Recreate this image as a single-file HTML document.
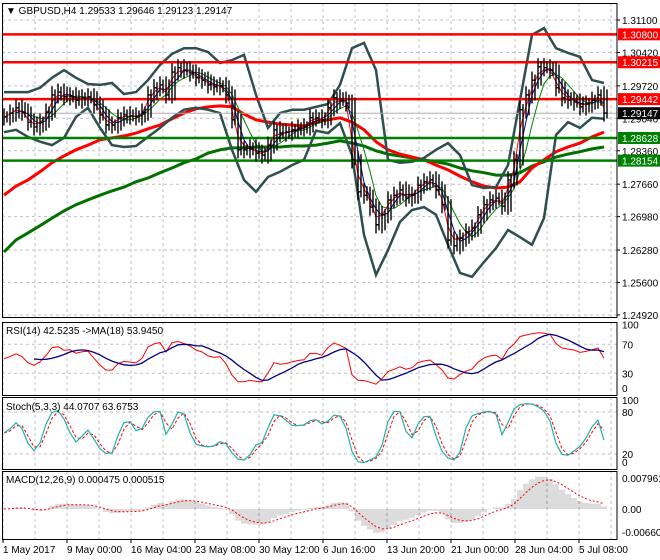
<!DOCTYPE html>
<html><head><meta charset="utf-8"><style>
html,body{margin:0;padding:0;background:#fff;}
svg{display:block;font-family:"Liberation Sans",sans-serif;}
text{font-size:10px;fill:#000;}
</style></head><body>
<svg id="c" width="660" height="560" viewBox="0 0 660 560" xmlns="http://www.w3.org/2000/svg">
<defs>
<clipPath id="cm"><rect x="2" y="3" width="615" height="314"/></clipPath>
<clipPath id="cr"><rect x="2" y="322" width="615" height="73"/></clipPath>
<clipPath id="cs"><rect x="2" y="397" width="615" height="72"/></clipPath>
<clipPath id="cd"><rect x="2" y="471" width="615" height="68"/></clipPath>
</defs>
<g id="grid"></g>
<g id="main" clip-path="url(#cm)"></g>
<g id="rsi" clip-path="url(#cr)"></g>
<g id="sto" clip-path="url(#cs)"></g>
<g id="macd" clip-path="url(#cd)"></g>
<g id="axes"></g>
<text x="6" y="14">▼ GBPUSD,H4  1.29533 1.29646 1.29123 1.29147</text>
<text x="6" y="334">RSI(14) 42.5235  -&gt;MA(18) 53.9450</text>
<text x="6" y="410">Stoch(5,3,3) 44.0707 63.6753</text>
<text x="6" y="483">MACD(12,26,9) 0.000475 0.000515</text>
</svg>
<script>
const closes=[1.2907,1.2915,1.2926,1.2917,1.2896,1.2886,1.2896,1.2917,1.2953,1.2959,
1.2949,1.2951,1.2942,1.2947,1.2949,1.2932,1.2911,1.2890,1.2890,1.2905,
1.2911,1.2909,1.2907,1.2917,1.2953,1.2968,1.2974,1.2953,1.3001,1.3010,
1.3005,1.2999,1.2989,1.2984,1.2974,1.2970,1.2972,1.2953,1.2901,1.2838,
1.2838,1.2842,1.2831,1.2827,1.2848,1.2880,1.2873,1.2875,1.2880,1.2884,
1.2886,1.2905,1.2905,1.2901,1.2926,1.2947,1.2942,1.2936,1.2817,1.2750,
1.2743,1.2718,1.2681,1.2702,1.2733,1.2743,1.2754,1.2737,1.2743,1.2764,
1.2771,1.2775,1.2754,1.2723,1.2649,1.2637,1.2653,1.2666,1.2674,1.2702,
1.2723,1.2733,1.2737,1.2720,1.2775,1.2817,1.2922,1.2953,1.2984,1.3012,
1.3010,1.3005,1.2968,1.2947,1.2942,1.2938,1.2928,1.2934,1.2942,1.2953,1.2915];
const bbUpper=[1.2959,1.2959,1.2959,1.2968,1.2989,1.3005,1.2989,1.2976,1.2974,1.2978,
1.2955,1.2959,1.2984,1.3016,1.3039,1.3051,1.3051,1.3043,1.3020,1.3026,
1.3037,1.2953,1.2884,1.2915,1.2922,1.2922,1.2928,1.2934,1.2974,1.3051,
1.3062,1.3005,1.2817,1.2811,1.2813,1.2821,1.2838,1.2852,1.2827,1.2764,
1.2758,1.2760,1.2806,1.2942,1.3079,1.3093,1.3051,1.3041,1.3033,1.2984,1.2978];
const bbLower=[1.2875,1.2880,1.2865,1.2855,1.2848,1.2863,1.2907,1.2926,1.2884,1.2848,
1.2844,1.2846,1.2865,1.2884,1.2905,1.2922,1.2926,1.2922,1.2915,1.2838,
1.2775,1.2750,1.2781,1.2792,1.2806,1.2817,1.2878,1.2873,1.2894,1.2827,
1.2660,1.2576,1.2628,1.2687,1.2712,1.2718,1.2702,1.2639,1.2580,1.2572,
1.2603,1.2632,1.2670,1.2655,1.2639,1.2695,1.2869,1.2896,1.2884,1.2905,1.2903];
const maSlow=[1.2743,1.2762,1.2775,1.2792,1.2811,1.2825,1.2838,1.2848,1.2859,1.2863,
1.2867,1.2873,1.2882,1.2890,1.2903,1.2915,1.2924,1.2928,1.2930,1.2928,
1.2913,1.2901,1.2896,1.2892,1.2890,1.2888,1.2896,1.2901,1.2905,1.2896,
1.2880,1.2855,1.2838,1.2829,1.2823,1.2817,1.2806,1.2796,1.2783,1.2771,
1.2762,1.2758,1.2760,1.2771,1.2800,1.2817,1.2834,1.2844,1.2852,1.2865,1.2875];
const maLong=[1.2624,1.2649,1.2664,1.2679,1.2695,1.2710,1.2723,1.2733,1.2743,1.2752,
1.2760,1.2771,1.2779,1.2790,1.2800,1.2811,1.2819,1.2831,1.2838,1.2842,
1.2842,1.2844,1.2844,1.2844,1.2846,1.2846,1.2848,1.2852,1.2857,1.2852,
1.2846,1.2836,1.2829,1.2825,1.2821,1.2817,1.2813,1.2808,1.2800,1.2794,
1.2790,1.2785,1.2785,1.2790,1.2804,1.2813,1.2823,1.2829,1.2834,1.2840,1.2844];
const levelPrices=[1.30800,1.30215,1.29442,1.28628,1.28154];
const levelKinds=["r","r","r","g","g"];
const lastPrice=1.29147;
const priceTicks=[1.31100,1.30420,1.29720,1.29040,1.28360,1.27660,1.26980,1.26280,1.25600,1.24920];
const timeLabels=["1 May 2017","9 May 00:00","16 May 04:00","23 May 08:00","30 May 12:00","6 Jun 16:00","13 Jun 20:00","21 Jun 00:00","28 Jun 04:00","5 Jul 08:00"];

const NS="http://www.w3.org/2000/svg";
function mk(tag,attrs,parent){const e=document.createElementNS(NS,tag);for(const k in attrs)e.setAttribute(k,attrs[k]);parent.appendChild(e);return e;}
const xOf=i=>4+6*i;
const xSm=k=>4+12*k;
const yMain=p=>20+(1.311-p)*4773;
const yRsi=v=>395-0.725*v;
const ySto=v=>468-0.7*v;
const yMacd=v=>509-v*3768;
const G=id=>document.getElementById(id);
const grid=G('grid'),main=G('main'),rsiG=G('rsi'),stoG=G('sto'),macdG=G('macd'),axes=G('axes');

for(let k=0;k<20;k++){const x=3+32*k;if(x>616)break;
 for(const [a,b] of [[3,317],[322,395],[397,469],[471,539]]){
  const l=mk('line',{x1:x,x2:x,y1:a,y2:b,stroke:'#c0c0c0','stroke-dasharray':'3,3'},grid);
  
  }}
priceTicks.forEach(p=>{const y=yMain(p);
 const l=mk('line',{x1:2,x2:617,y1:y,y2:y,stroke:'#c0c0c0','stroke-dasharray':'3,3'},grid);
 
 
 const t=mk('text',{x:622,y:y+4},axes);t.textContent=p.toFixed(5);
 
 
 const tk=mk('line',{x1:617,x2:620,y1:y,y2:y,stroke:'#000'},axes);
 
 });
[[70,yRsi],[30,yRsi],[80,ySto],[20,ySto]].forEach(([v,f])=>{const y=f(v);
 const l=mk('line',{x1:2,x2:617,y1:y,y2:y,stroke:'#c0c0c0','stroke-dasharray':'3,3'},grid);
 
 });
function path(arr,xf,yf,attrs,parent,name){let d='';arr.forEach((v,i)=>{if(v==null)return;d+=(d?'L':'M')+xf(i).toFixed(1)+','+yf(v).toFixed(1);});
 const p=mk('path',Object.assign({d:d,fill:'none'},attrs),parent);
 
 return p;}

path(maLong,xSm,yMain,{stroke:'#007000','stroke-width':3},main,'ma-long-line');
path(maSlow,xSm,yMain,{stroke:'#ff0000','stroke-width':3},main,'ma-slow-line');
path(bbUpper,xSm,yMain,{stroke:'#2f4f4f','stroke-width':2.5},main,'bollinger-upper');
path(bbLower,xSm,yMain,{stroke:'#2f4f4f','stroke-width':2.5},main,'bollinger-lower');
levelPrices.forEach((p,i)=>{const y=yMain(p);const col=levelKinds[i]=='r'?'#ff0000':'#008000';
 const l=mk('line',{x1:2,x2:617,y1:y,y2:y,stroke:col,'stroke-width':2.5},main);
 
 });
const cl=mk('line',{x1:2,x2:617,y1:yMain(lastPrice),y2:yMain(lastPrice),stroke:'#b0b0b0'},main);


function sma(a,n){return a.map((v,i)=>{if(i<n-1)return null;let s=0;for(let j=i-n+1;j<=i;j++)s+=a[j];return s/n;});}
function ema(a,n){const k=2/(n+1);let e=a[0];return a.map((v,i)=>{e=i?v*k+e*(1-k):v;return e;});}
path(sma(closes,5),xOf,yMain,{stroke:'#008000','stroke-width':1},main,'ma-fast-green');
path(sma(closes,3),xOf,yMain,{stroke:'#00008b','stroke-width':1},main,'ma-fast-blue');
path(ema(closes,2),xOf,yMain,{stroke:'#ff0000','stroke-width':1},main,'ma-fast-red');
const highs=[],lows=[];
closes.forEach((c,i)=>{const o=i?closes[i-1]:c;const h=Math.max(o,c)+0.0018,l=Math.min(o,c)-0.0018;highs.push(h);lows.push(l);
 const x=xOf(i);
 const b=mk('path',{d:`M${x},${yMain(h)}V${yMain(l)}M${x+3},${yMain(h)+3}V${yMain(l)-3}M${x},${yMain(c)}h3`,stroke:'#000','stroke-width':1.4,fill:'none'},main);
 
 });

const P=9;const rsiV=[];let ag=0.0008,al=0.0008;
closes.forEach((c,i)=>{if(!i){rsiV.push(50);return;}const d=c-closes[i-1];const g=Math.max(d,0),l=Math.max(-d,0);
 ag=(ag*(P-1)+g)/P;al=(al*(P-1)+l)/P;rsiV.push(al==0?100:100-100/(1+ag/al));});
const rsiMa=sma(rsiV,6);
path(rsiV,xOf,yRsi,{stroke:'#ff0000','stroke-width':1},rsiG,'rsi-line');
path(rsiMa,xOf,yRsi,{stroke:'#000080','stroke-width':1.3},rsiG,'rsi-ma-line');
const kRaw=closes.map((c,i)=>{const s=Math.max(0,i-2);const hh=Math.max(...highs.slice(s,i+1)),ll=Math.min(...lows.slice(s,i+1));return 100*(c-ll)/(hh-ll);});
const kS=kRaw.map((v,i)=>i?(2*v+kRaw[i-1])/3:v);
const dS=kS.map((v,i)=>i?(v+kS[i-1])/2:v);
path(dS,xOf,ySto,{stroke:'#ff0000','stroke-width':1,'stroke-dasharray':'3,2'},stoG,'stoch-signal-line');
path(kS,xOf,ySto,{stroke:'#20b2aa','stroke-width':1.2},stoG,'stoch-main-line');
const e1=ema(closes,5),e2=ema(closes,12);const macdV=e1.map((v,i)=>v-e2[i]);const sig=ema(macdV,4);
macdV.forEach((v,i)=>{for(let s=0;s<3;s++){const x=xOf(i)+s*2-2;
 const h=mk('line',{x1:x,x2:x,y1:yMacd(0),y2:yMacd(v),stroke:'#b8b8b8'},macdG);
 
 }});
path(sig,xOf,yMacd,{stroke:'#ff0000','stroke-width':1,'stroke-dasharray':'2,2'},macdG,'macd-signal-line');

[[3,317],[322,395],[397,469],[471,539]].forEach(([a,b])=>{
 const r=mk('rect',{x:2.5,y:a+0.5,width:614.5,height:b-a,fill:'none',stroke:'#000'},axes);
 
 });
[[100,yRsi(100)+6],[70,yRsi(70)+4],[30,yRsi(30)+4],[0,yRsi(0)-3]].forEach(([v,y])=>{const t=mk('text',{x:622,y:y},axes);t.textContent=v;
 
 });
[[100,ySto(100)+6],[80,ySto(80)+4],[20,ySto(20)+4],[0,ySto(0)-2]].forEach(([v,y])=>{const t=mk('text',{x:622,y:y},axes);t.textContent=v;
 
 });
[['0.007961',482],['0.00',513],['-0.006601',536]].forEach(([v,y])=>{const t=mk('text',{x:622,y:y},axes);t.textContent=v;
 
 });
function tag(p,col,txt){const y=yMain(p);
 const r=mk('rect',{x:618,y:y-6,width:42,height:12,fill:col},axes);
 
 
 const t=mk('text',{x:622,y:y+4,fill:'#fff'},axes);t.textContent=txt;t.style.fill='#fff';
 
 }
levelPrices.forEach((p,i)=>tag(p,levelKinds[i]=='r'?'#ff0000':'#008000',p.toFixed(5)));
tag(lastPrice,'#000',lastPrice.toFixed(5));
timeLabels.forEach((s,k)=>{const x=3+64*k;
 const tk=mk('line',{x1:x,x2:x,y1:539,y2:543,stroke:'#000'},axes);
 
 
 const t=mk('text',{x:x,y:553},axes);t.textContent=s;
 
 });
</script>
</body></html>
